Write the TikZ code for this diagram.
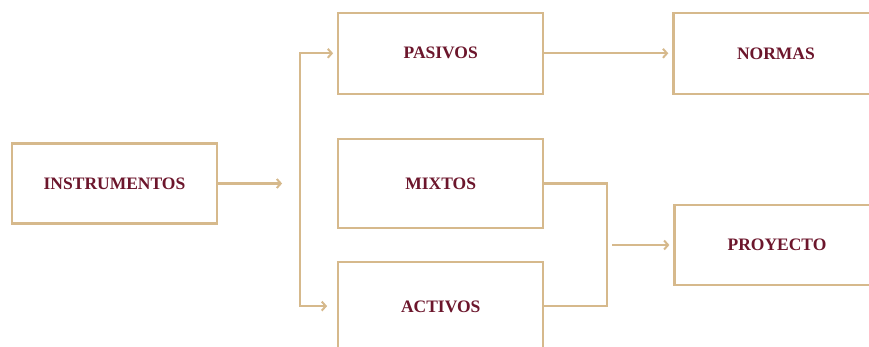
\documentclass[tikz,border=0pt]{standalone}
\usepackage{fontspec}
\setmainfont{Liberation Serif}
\usetikzlibrary{arrows.meta, positioning, calc}
\definecolor{BoxLine}{RGB}{214,185,140}
\definecolor{BoxText}{RGB}{108,22,44}
\tikzset{
  % Generic box with optional height (default 81pt)
  box/.style={
    rectangle, draw=BoxLine, fill=white, line width=2.2pt,
    minimum width=205pt, minimum height=#1, inner sep=0pt,
    align=center, text=BoxText,
    font=\bfseries\fontsize{17.5}{20}\selectfont
  },
  box/.default=81pt,
  link/.style={draw=BoxLine, line width=2.2pt},
  tip/.tip={Straight Barb[length=4pt, width=9pt, line width=2pt]},
  arr/.style={link, -tip}
}

\begin{document}
\begin{tikzpicture}[node distance=43pt]

  \clip (0,0) rectangle (869pt,-347pt);

  %% -- Source ----------------------------------------------------------------
  \node[box=80pt] (inst) at (114.5pt,-183.5pt) {INSTRUMENTOS};

  %% -- Middle column ---------------------------------------------------------
  \node[box=89pt, right=119pt of inst] (mixtos) {MIXTOS};
  \node[box, above=of mixtos] (pasivos) {PASIVOS};
  \node[box=90pt, below=32pt of mixtos] (activos) {ACTIVOS};

  %% -- Right column ----------------------------------------------------------
  \node[box, right=128pt of pasivos] (normas) {NORMAS};
  \node[box=80pt] (proyecto) at (777pt,-245pt) {PROYECTO};

  %% -- Connectors ------------------------------------------------------------
  \coordinate[right=64pt of inst.east] (instend);
  \coordinate (brk) at ($(pasivos.west)+(-37pt,0)$);
  \coordinate (join) at ($(mixtos.east)+(63pt,0)$);

  \draw[arr] (inst.east) -- (instend);
  \draw[link, tip-tip, shorten <=4pt, shorten >=10pt]
    (pasivos.west) -- (pasivos.west -| brk) -- (brk |- {$(activos.north)+(0,-45pt)$})
    -- ($(activos.north west)+(0,-45pt)$);
  \draw[arr, shorten >=4pt] (pasivos) -- (normas);
  \draw[link] (mixtos.east) -- (mixtos.east -| join)
    -- (join |- {$(activos.north)+(0,-45pt)$}) -- ($(activos.north east)+(0,-45pt)$);
  \draw[arr, shorten <=5pt, shorten >=4pt] (join |- proyecto.west) -- (proyecto.west);

\end{tikzpicture}
\end{document}
